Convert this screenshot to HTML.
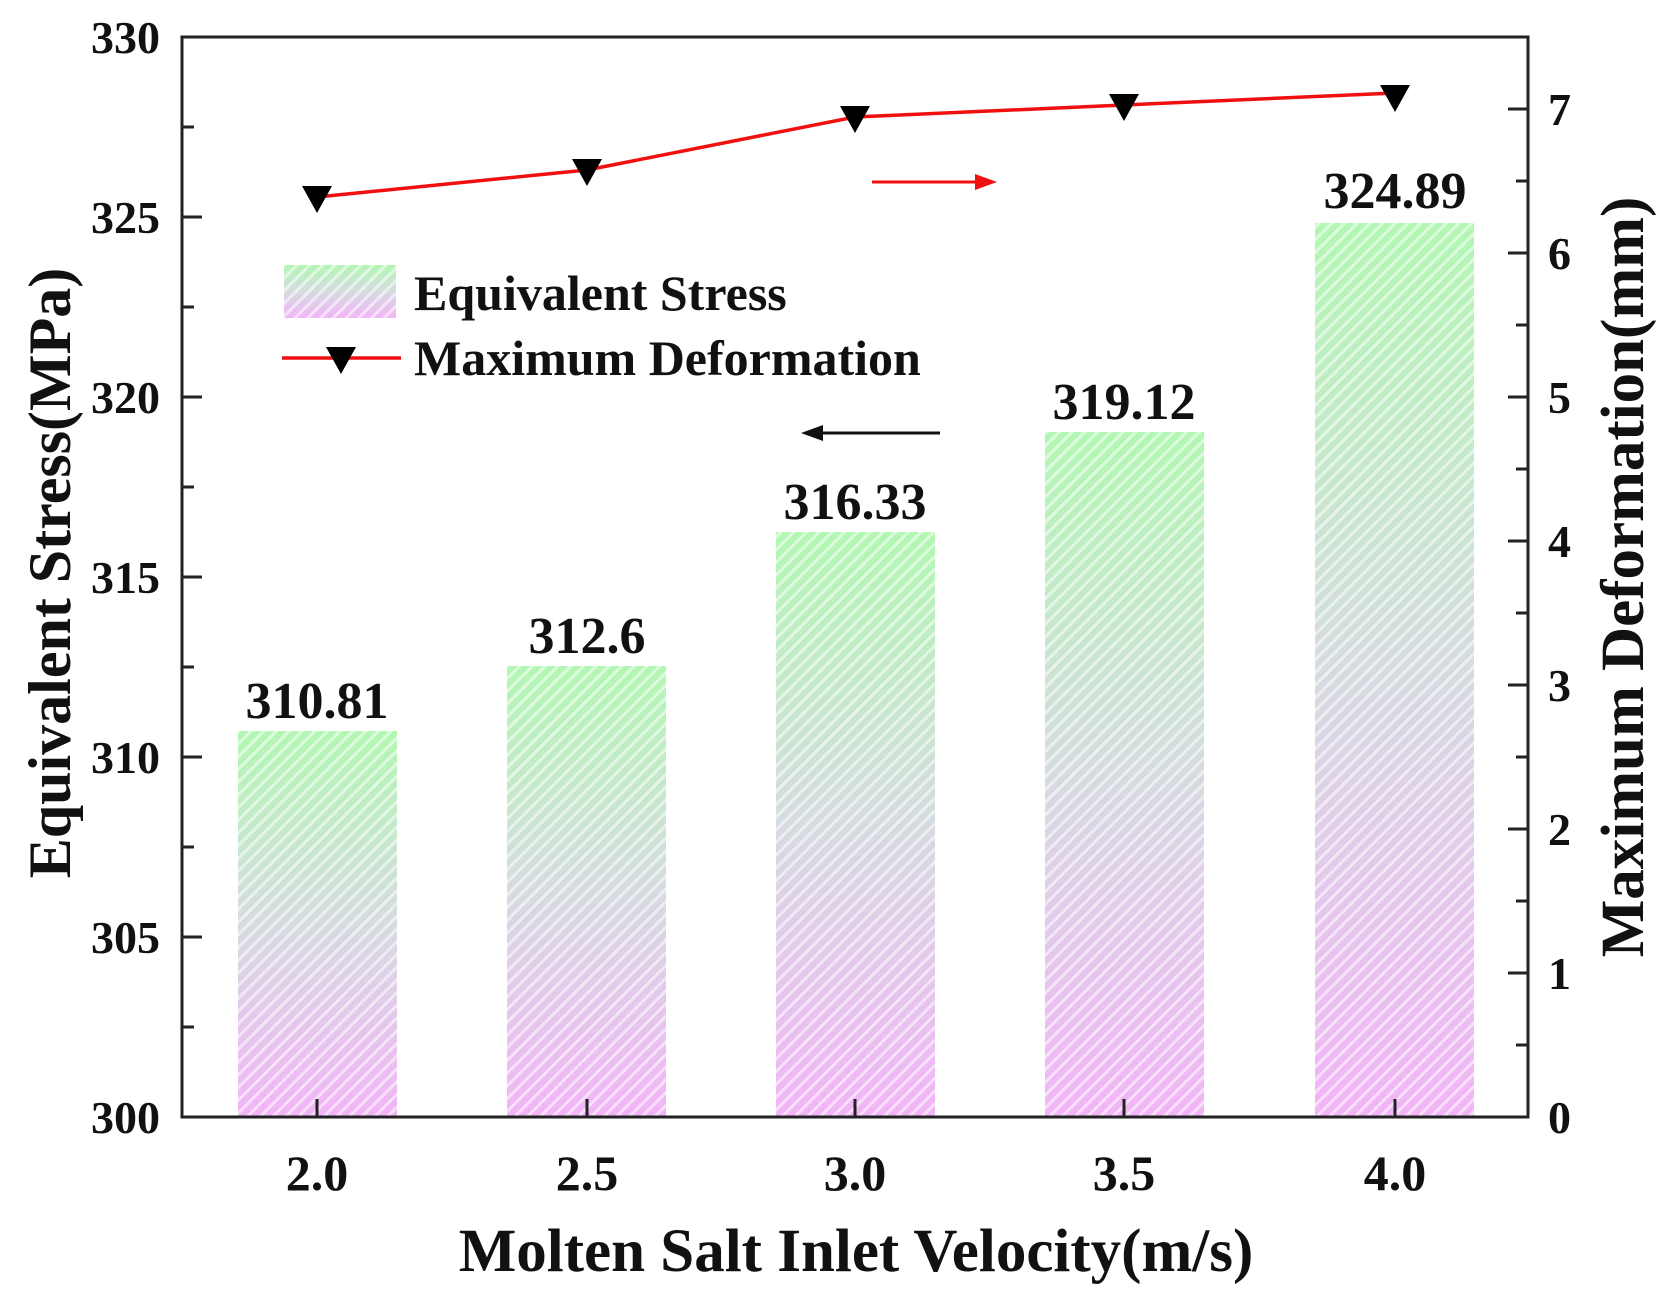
<!DOCTYPE html>
<html><head><meta charset="utf-8"><style>
html,body{margin:0;padding:0;background:#fff;}
svg{display:block;font-family:"Liberation Serif",serif;font-weight:bold;}
</style></head><body>
<svg width="1663" height="1306" viewBox="0 0 1663 1306" xmlns="http://www.w3.org/2000/svg">
<defs>
<linearGradient id="g" x1="0" y1="0" x2="0" y2="1">
<stop offset="0" stop-color="#b2f7b2"/>
<stop offset="0.5" stop-color="#d6dbe0"/>
<stop offset="1" stop-color="#f2b4f7"/>
</linearGradient>
<pattern id="h" width="9" height="9" patternUnits="userSpaceOnUse" patternTransform="rotate(45)">
<rect width="3" height="9" fill="#ffffff" opacity="0.55"/>
</pattern>
</defs>
<g>
<rect x="238" y="731" width="159" height="386" fill="url(#g)"/>
<rect x="507" y="666" width="159" height="451" fill="url(#g)"/>
<rect x="776" y="532" width="159" height="585" fill="url(#g)"/>
<rect x="1045" y="432" width="159" height="685" fill="url(#g)"/>
<rect x="1315" y="223" width="159" height="894" fill="url(#g)"/>
<rect x="238" y="731" width="159" height="386" fill="url(#h)"/>
<rect x="507" y="666" width="159" height="451" fill="url(#h)"/>
<rect x="776" y="532" width="159" height="585" fill="url(#h)"/>
<rect x="1045" y="432" width="159" height="685" fill="url(#h)"/>
<rect x="1315" y="223" width="159" height="894" fill="url(#h)"/>
</g>
<g font-size="52" text-anchor="middle" fill="#111">
<text x="317" y="718">310.81</text>
<text x="587" y="653">312.6</text>
<text x="855" y="519">316.33</text>
<text x="1124" y="419">319.12</text>
<text x="1395" y="208">324.89</text>
</g>
<g stroke="#222" stroke-width="3" fill="none">
<rect x="182" y="37" width="1346" height="1080"/>
</g>
<g stroke="#222" stroke-width="3">
<line x1="182" y1="1117" x2="202" y2="1117"/><line x1="182" y1="1027" x2="194" y2="1027"/>
<line x1="182" y1="937" x2="202" y2="937"/><line x1="182" y1="847" x2="194" y2="847"/>
<line x1="182" y1="757" x2="202" y2="757"/><line x1="182" y1="667" x2="194" y2="667"/>
<line x1="182" y1="577" x2="202" y2="577"/><line x1="182" y1="487" x2="194" y2="487"/>
<line x1="182" y1="397" x2="202" y2="397"/><line x1="182" y1="307" x2="194" y2="307"/>
<line x1="182" y1="217" x2="202" y2="217"/><line x1="182" y1="127" x2="194" y2="127"/>
<line x1="1528" y1="1117" x2="1508" y2="1117"/><line x1="1528" y1="1045" x2="1516" y2="1045"/>
<line x1="1528" y1="973" x2="1508" y2="973"/><line x1="1528" y1="901" x2="1516" y2="901"/>
<line x1="1528" y1="829" x2="1508" y2="829"/><line x1="1528" y1="757" x2="1516" y2="757"/>
<line x1="1528" y1="685" x2="1508" y2="685"/><line x1="1528" y1="613" x2="1516" y2="613"/>
<line x1="1528" y1="541" x2="1508" y2="541"/><line x1="1528" y1="469" x2="1516" y2="469"/>
<line x1="1528" y1="397" x2="1508" y2="397"/><line x1="1528" y1="325" x2="1516" y2="325"/>
<line x1="1528" y1="253" x2="1508" y2="253"/><line x1="1528" y1="181" x2="1516" y2="181"/>
<line x1="1528" y1="109" x2="1508" y2="109"/>
<line x1="317" y1="1117" x2="317" y2="1099"/><line x1="587" y1="1117" x2="587" y2="1099"/>
<line x1="855" y1="1117" x2="855" y2="1099"/><line x1="1124" y1="1117" x2="1124" y2="1099"/>
<line x1="1395" y1="1117" x2="1395" y2="1099"/>
</g>
<g font-size="46" fill="#111" text-anchor="end">
<text x="160" y="1133">300</text><text x="160" y="953">305</text><text x="160" y="773">310</text>
<text x="160" y="593">315</text><text x="160" y="413">320</text><text x="160" y="233">325</text>
<text x="160" y="53">330</text>
</g>
<g font-size="46" fill="#111" text-anchor="start">
<text x="1548" y="1133">0</text><text x="1548" y="989">1</text><text x="1548" y="845">2</text>
<text x="1548" y="701">3</text><text x="1548" y="557">4</text><text x="1548" y="413">5</text>
<text x="1548" y="269">6</text><text x="1548" y="125">7</text>
</g>
<g font-size="50" fill="#111" text-anchor="middle">
<text x="317" y="1190">2.0</text><text x="587" y="1190">2.5</text><text x="855" y="1190">3.0</text>
<text x="1124" y="1190">3.5</text><text x="1395" y="1190">4.0</text>
</g>
<text x="856" y="1271" font-size="61" text-anchor="middle" fill="#111">Molten Salt Inlet Velocity(m/s)</text>
<text transform="translate(70,573) rotate(-90)" font-size="60" text-anchor="middle" fill="#111">Equivalent Stress(MPa)</text>
<text transform="translate(1643,577) rotate(-90)" font-size="61" text-anchor="middle" fill="#111">Maximum Deformation(mm)</text>
<polyline points="317,197 587,170 855,117 1124,105 1395,93" fill="none" stroke="#f01010" stroke-width="3.5"/>
<g fill="#000">
<polygon points="302,186 332,186 317,213"/>
<polygon points="572,159 602,159 587,186"/>
<polygon points="840,106 870,106 855,133"/>
<polygon points="1109,94 1139,94 1124,121"/>
<polygon points="1380,85 1410,85 1395,112"/>
</g>
<line x1="872" y1="182" x2="980" y2="182" stroke="#f01010" stroke-width="3"/>
<polygon points="997,182 975,174 975,190" fill="#f01010"/>
<line x1="820" y1="433" x2="940" y2="433" stroke="#111" stroke-width="3"/>
<polygon points="801,433 823,425 823,441" fill="#111"/>
<rect x="284" y="265" width="112" height="53" fill="url(#g)"/>
<rect x="284" y="265" width="112" height="53" fill="url(#h)"/>
<text x="414" y="310" font-size="50" fill="#111">Equivalent Stress</text>
<line x1="282" y1="358" x2="401" y2="358" stroke="#f01010" stroke-width="3.5"/>
<polygon points="326,347 356,347 341,374" fill="#000"/>
<text x="414" y="375" font-size="50" fill="#111">Maximum Deformation</text>
</svg>
</body></html>
